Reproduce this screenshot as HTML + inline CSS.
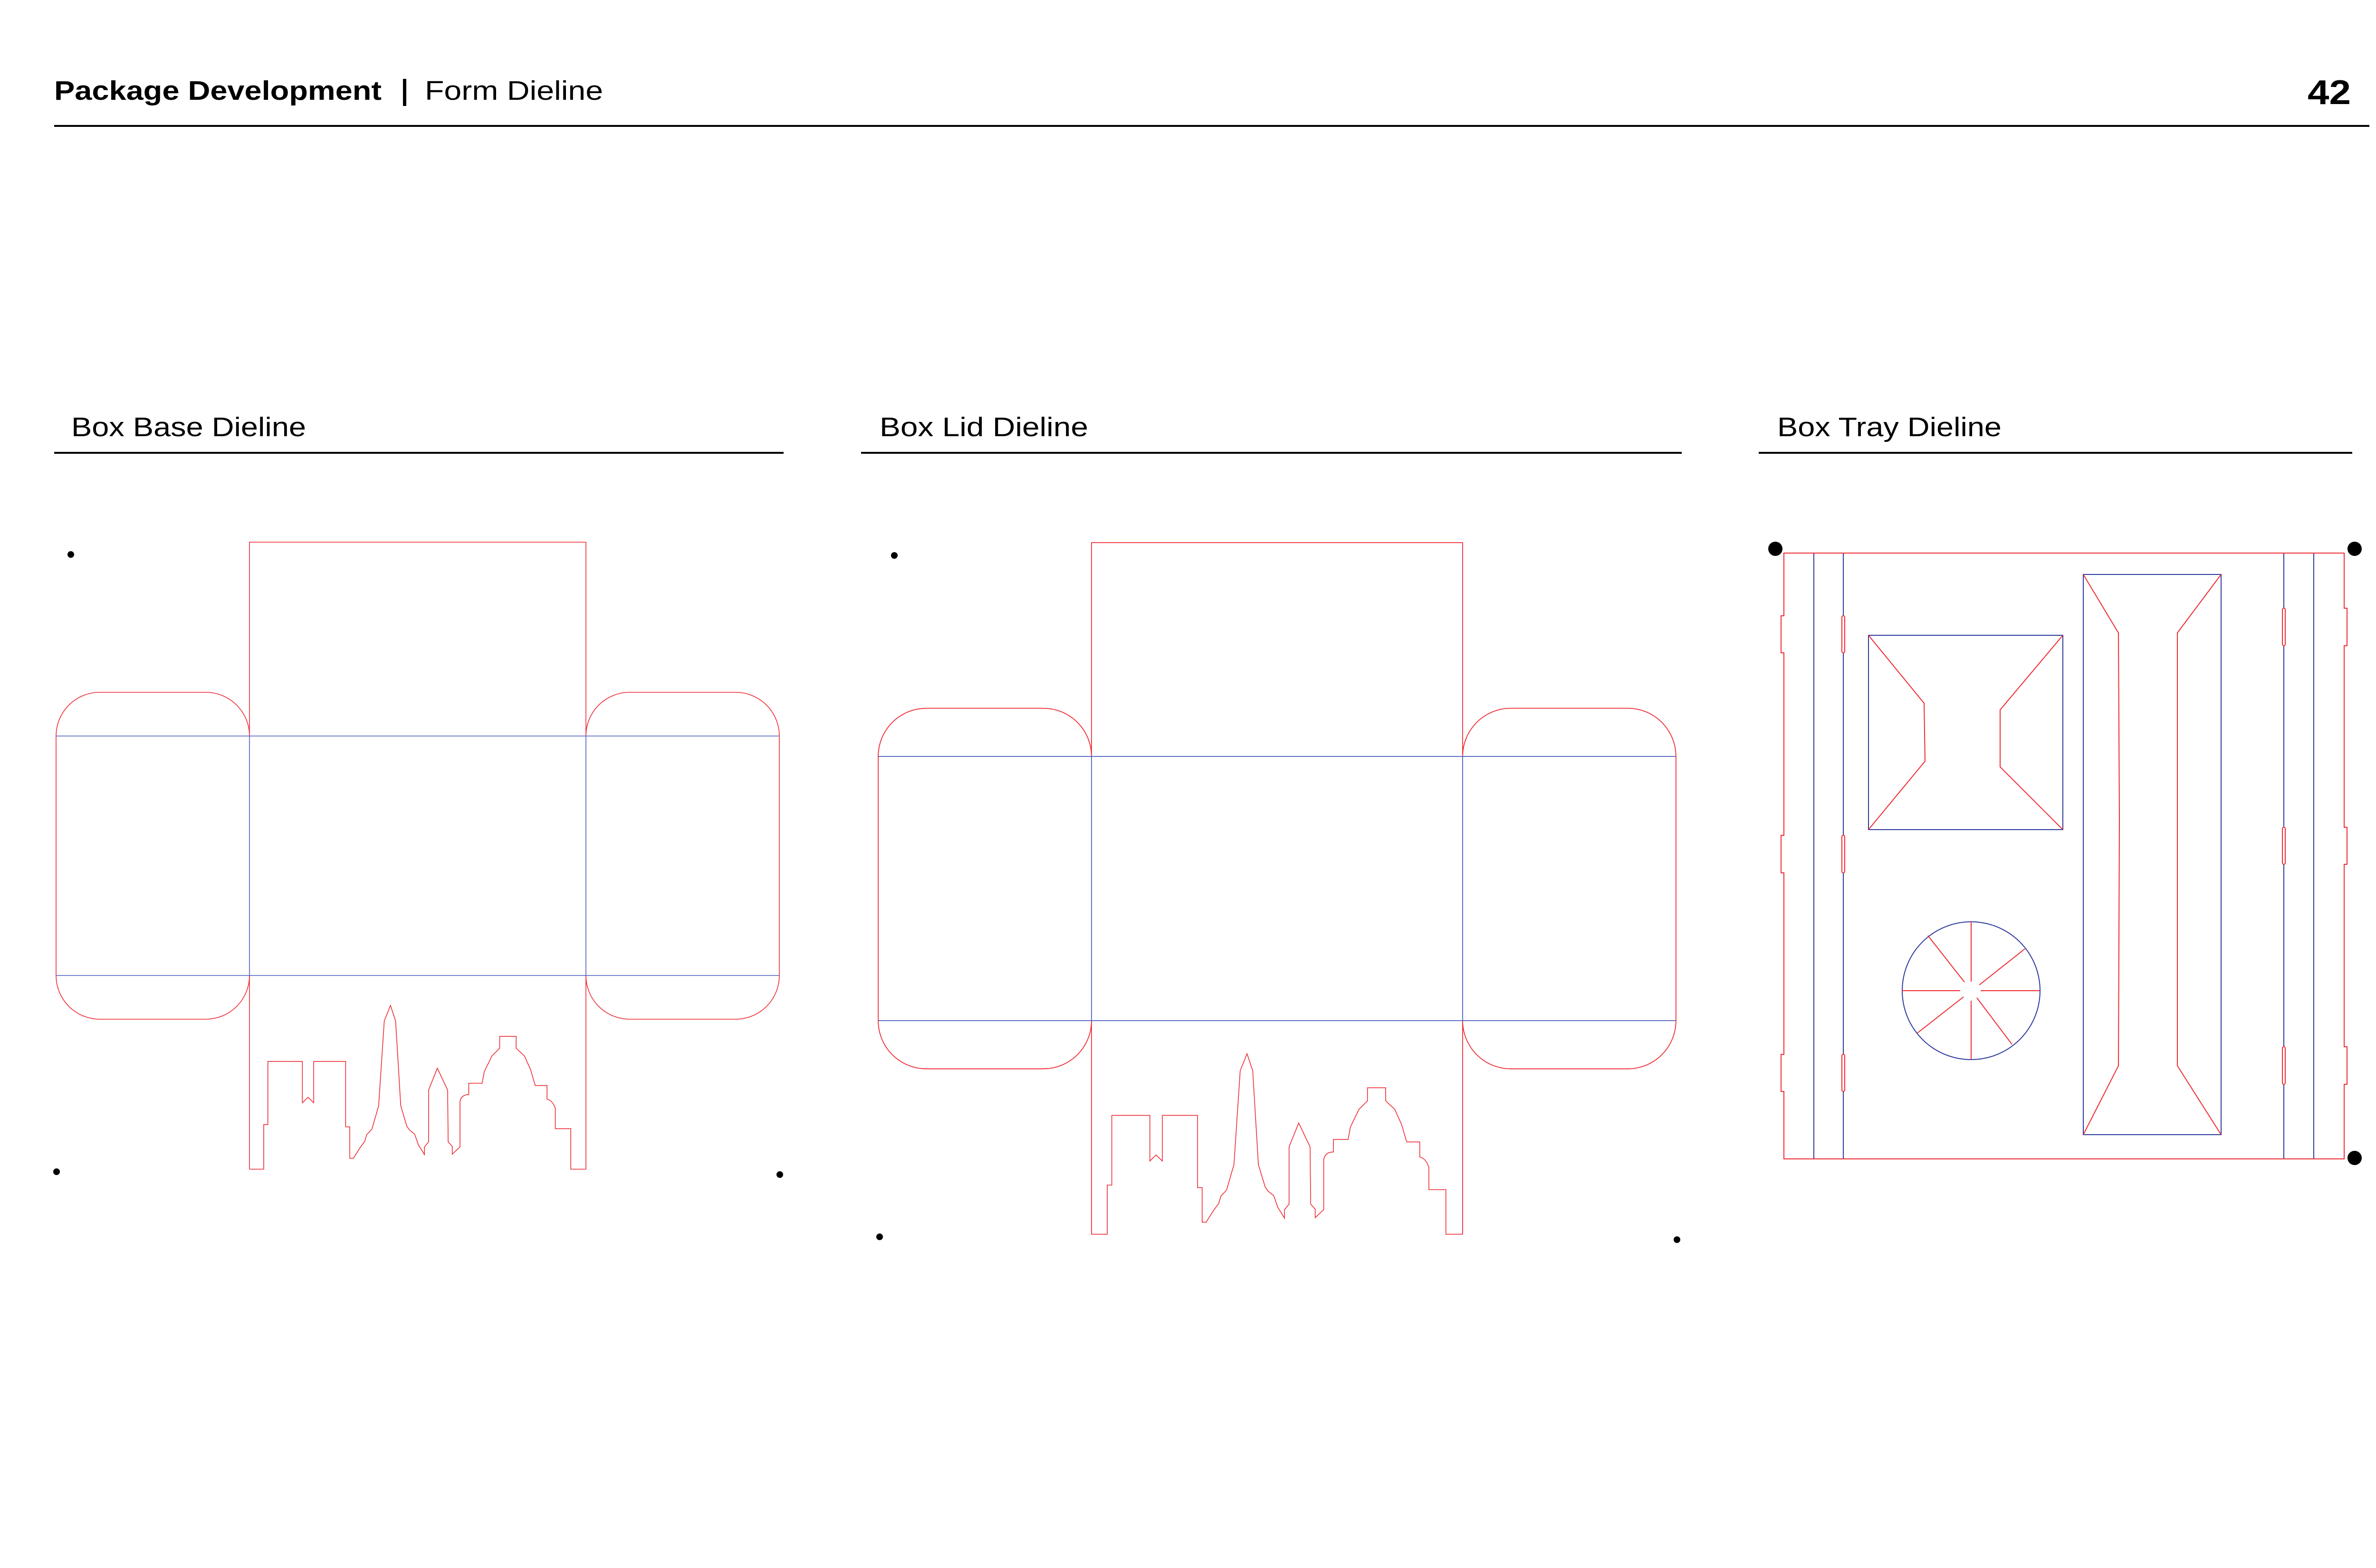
<!DOCTYPE html>
<html><head><meta charset="utf-8"><style>
html,body{margin:0;padding:0;background:#fff;}
svg{display:block;}
text{font-family:"Liberation Sans",sans-serif;fill:#000;}
</style></head><body>
<svg width="5100" height="3300" viewBox="0 0 5100 3300" xmlns="http://www.w3.org/2000/svg">
<rect width="5100" height="3300" fill="#fff"/>
<!-- header -->
<text x="114" y="210" font-size="57" font-weight="bold" textLength="689" lengthAdjust="spacingAndGlyphs">Package Development</text>
<rect x="848" y="166" width="7" height="57" fill="#000"/>
<text x="894" y="210" font-size="57" textLength="375" lengthAdjust="spacingAndGlyphs">Form Dieline</text>
<text x="4856" y="219" font-size="72" font-weight="bold" textLength="91" lengthAdjust="spacingAndGlyphs">42</text>
<rect x="114" y="263" width="4872" height="4" fill="#000"/>
<!-- section headings -->
<text x="150" y="918" font-size="57" textLength="494" lengthAdjust="spacingAndGlyphs">Box Base Dieline</text>
<text x="1851" y="918" font-size="57" textLength="439" lengthAdjust="spacingAndGlyphs">Box Lid Dieline</text>
<text x="3740" y="918" font-size="57" textLength="472" lengthAdjust="spacingAndGlyphs">Box Tray Dieline</text>
<rect x="114" y="951" width="1535" height="4" fill="#000"/>
<rect x="1812" y="951" width="1727" height="4" fill="#000"/>
<rect x="3701" y="951" width="1249" height="4" fill="#000"/>

<!-- box base -->
<g id="base" fill="none" stroke-width="1.6">
  <!-- outline -->
  <path stroke="#ee2a32" d="M525,1549 V1141 H1233 V1549
    A92,92 0 0 1 1325,1457 H1548 A92,92 0 0 1 1640,1549 V2053 A92,92 0 0 1 1548,2145 H1325 A92,92 0 0 1 1233,2053 V2461
    M525,2053 A92,92 0 0 1 433,2145 H210 A92,92 0 0 1 118,2053 V1549 A92,92 0 0 1 210,1457 H433 A92,92 0 0 1 525,1549"/>
  <path stroke="#ee2a32" d="M525,2053 V2461"/>
  <!-- folds -->
  <path stroke="#4a5bc0" d="M118,1549 H1640 M118,2053 H1640 M525,1549 V2053 M1233,1549 V2053"/>
  <!-- skyline -->
  <path stroke="#ee2a32" vector-effect="non-scaling-stroke" transform="matrix(1.084,0,0,0.957,0,1050)"
   d="M484,1474 L512,1474 L512,1376 L520,1376 L520,1237 L587,1237 L587,1328 L598,1316 L609,1328 L609,1237 L671,1237 L671,1381 L679,1381 L679,1450 L686,1450 L700,1425 L708,1413 L712,1398 L722,1386 L735,1335 L746,1148 L758,1114 L768,1148 L778,1335 L790,1380 L795,1388 L805,1397 L812,1420 L824,1442 L824,1425 L832,1414 L832,1300 L849,1252 L869,1300 L870,1414 L878,1424 L878,1441 L893,1425 L893,1326 Q895,1310 910,1310 L910,1285 L936,1285 L940,1260 L955,1225 L970,1208 L970,1182 L1002,1182 L1002,1208 L1018,1225 L1030,1255 L1039,1290 L1062,1290 L1062,1320 Q1072,1322 1078,1340 L1078,1385 L1108,1385 L1108,1474 L1137,1474"/>
</g>
<circle cx="149" cy="1167" r="7" fill="#000"/>
<circle cx="119" cy="2466" r="7" fill="#000"/>
<circle cx="1641" cy="2472" r="7" fill="#000"/>

<!-- box lid = scaled base -->
<use href="#base" transform="matrix(1.103,0,0,1.103,1717.9,-116.5)"/>
<circle cx="1882" cy="1169" r="7" fill="#000"/>
<circle cx="1851" cy="2603" r="7" fill="#000"/>
<circle cx="3529" cy="2609" r="7" fill="#000"/>

<!-- box tray -->
<g fill="none" stroke-width="2">
  <path stroke="#2e3a9c" d="M3817,1164 V2439 M3879,1164 V2439 M4806,1164 V2439 M4869,1164 V2439"/>
  <path stroke="#ee2a32" d="M3754,1164 H4933 V1280 h6 v79 h-6 V1741 h6 v78 h-6 V2203 h6 v79 h-6 V2439 H3754 V2297 h-6 v-78 h6 V1837 h-6 v-79 h6 V1374 h-6 v-78 h6 Z"/>
  <g stroke="#ee2a32" fill="#fff">
    <rect x="3876" y="1296" width="6" height="78" rx="3"/>
    <rect x="3876" y="1758" width="6" height="79" rx="3"/>
    <rect x="3876" y="2219" width="6" height="78" rx="3"/>
    <rect x="4803" y="1280" width="6" height="79" rx="3"/>
    <rect x="4803" y="1741" width="6" height="78" rx="3"/>
    <rect x="4803" y="2203" width="6" height="79" rx="3"/>
  </g>
  <!-- square -->
  <rect stroke="#2e3a9c" x="3932" y="1337" width="409" height="409"/>
  <path stroke="#ee2a32" d="M3932,1337 L4049,1480 L4051,1602 L3932,1746 M4341,1337 L4209,1494 L4209,1614 L4341,1746"/>
  <!-- circle -->
  <circle stroke="#2e3a9c" cx="4148" cy="2085" r="145"/>
  <path stroke="#ee2a32" d="M4148,1939 V2066 M4148,2106 V2230 M4002,2085 H4125 M4168,2085 H4292
    M4057,1969 L4134,2067 M4261,1997 L4165,2073 M4035,2174 L4132,2098 M4234,2198 L4160,2100"/>
  <!-- tall rect -->
  <rect stroke="#2e3a9c" x="4384" y="1209" width="290" height="1179"/>
  <path stroke="#ee2a32" d="M4384,1209 L4458,1332 L4460,1725 L4458,2243 L4384,2388 M4674,1209 L4582,1332 L4582,2243 L4674,2388"/>
</g>
<circle cx="3736" cy="1155" r="15" fill="#000"/>
<circle cx="4955" cy="1155" r="15" fill="#000"/>
<circle cx="4955" cy="2437" r="15" fill="#000"/>
</svg>
</body></html>
